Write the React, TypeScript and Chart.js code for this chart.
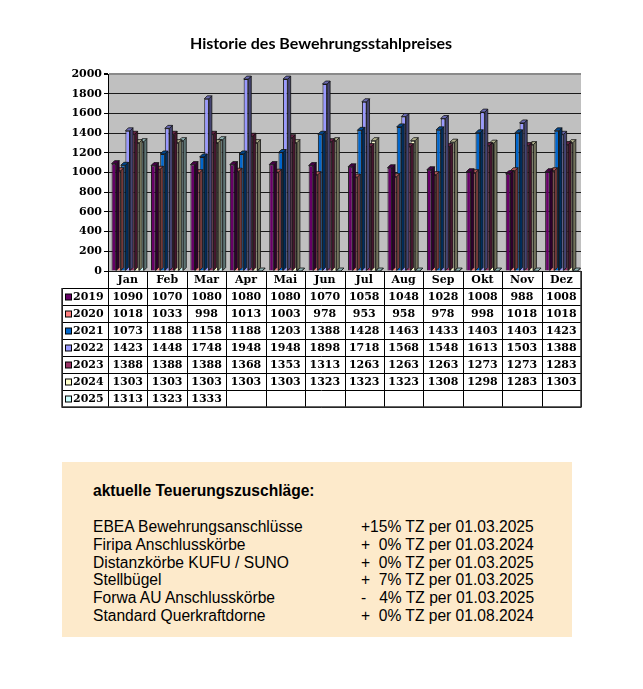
import React, { useEffect, useRef } from 'react';
import { Chart, registerables } from 'chart.js';

Chart.register(...registerables);

const chartTitle = 'Historie des Bewehrungsstahlpreises';
const months = ['Jan', 'Feb', 'Mar', 'Apr', 'Mai', 'Jun', 'Jul', 'Aug', 'Sep', 'Okt', 'Nov', 'Dez'];
const years = ['2019', '2020', '2021', '2022', '2023', '2024', '2025'];

const v2019 = [1090, 1070, 1080, 1080, 1080, 1070, 1058, 1048, 1028, 1008, 988, 1008];
const v2020 = [1018, 1033, 998, 1013, 1003, 978, 953, 958, 978, 998, 1018, 1018];
const v2021 = [1073, 1188, 1158, 1188, 1203, 1388, 1428, 1463, 1433, 1403, 1403, 1423];
const v2022 = [1423, 1448, 1748, 1948, 1948, 1898, 1718, 1568, 1548, 1613, 1503, 1388];
const v2023 = [1388, 1388, 1388, 1368, 1353, 1313, 1263, 1263, 1263, 1273, 1273, 1283];
const v2024 = [1303, 1303, 1303, 1303, 1303, 1323, 1323, 1323, 1308, 1298, 1283, 1303];
const v2025 = [1313, 1323, 1333, null, null, null, null, null, null, null, null, null];

const series = [v2019, v2020, v2021, v2022, v2023, v2024, v2025];
const colors = ['#660066', '#FF8080', '#0066CC', '#9999FF', '#993366', '#FFFFCC', '#CCFFFF'];

const yMin = 0;
const yMax = 2000;
const yStep = 200;

const boxHeading = 'aktuelle Teuerungszuschläge:';
const surchargeNames = [
  'EBEA Bewehrungsanschlüsse',
  'Firipa Anschlusskörbe',
  'Distanzkörbe KUFU / SUNO',
  'Stellbügel',
  'Forwa AU Anschlusskörbe',
  'Standard Querkraftdorne',
];
const surchargeRates = [
  '+15% TZ per 01.03.2025',
  '+  0% TZ per 01.03.2024',
  '+  0% TZ per 01.03.2025',
  '+  7% TZ per 01.03.2025',
  '-   4% TZ per 01.03.2025',
  '+  0% TZ per 01.08.2024',
];

const SERIF = '"DejaVu Serif", serif';

function shade(hex: string, f: number) {
  const n = parseInt(hex.slice(1), 16);
  const r = Math.round(((n >> 16) & 255) * f);
  const g = Math.round(((n >> 8) & 255) * f);
  const b = Math.round((n & 255) * f);
  return `rgb(${r},${g},${b})`;
}

const bgPlugin = {
  id: 'bgPlugin',
  beforeDraw(chart: any) {
    const { ctx, chartArea } = chart;
    ctx.save();
    ctx.fillStyle = '#C0C0C0';
    ctx.fillRect(chartArea.left, chartArea.top, chartArea.right - chartArea.left, chartArea.bottom - chartArea.top);
    ctx.restore();
  },
};

const DX = 3;
const DY = 3;

const depthPlugin = {
  id: 'depthPlugin',
  beforeDatasetDraw(chart: any, args: any) {
    const { ctx } = chart;
    const color = colors[args.index];
    const meta = args.meta;
    ctx.save();
    ctx.lineWidth = 0.8;
    ctx.strokeStyle = '#111';
    for (const el of meta.data) {
      const p = el.getProps(['x', 'y', 'base', 'width'], true);
      if (p.y == null || isNaN(p.y)) continue;
      const l = p.x - p.width / 2;
      const r = p.x + p.width / 2;
      const t = p.y;
      const b = p.base;
      ctx.beginPath();
      ctx.moveTo(r, t);
      ctx.lineTo(r + DX, t - DY);
      ctx.lineTo(r + DX, b - DY);
      ctx.lineTo(r, b);
      ctx.closePath();
      ctx.fillStyle = shade(color, 0.45);
      ctx.fill();
      ctx.stroke();
      ctx.beginPath();
      ctx.moveTo(l, t);
      ctx.lineTo(l + DX, t - DY);
      ctx.lineTo(r + DX, t - DY);
      ctx.lineTo(r, t);
      ctx.closePath();
      ctx.fillStyle = shade(color, 0.7);
      ctx.fill();
      ctx.stroke();
    }
    ctx.restore();
  },
};

const titlePlugin = {
  id: 'titlePlugin',
  afterDraw(chart: any) {
    const { ctx } = chart;
    ctx.save();
    ctx.font = 'bold 16px Lato, "Liberation Sans", sans-serif';
    ctx.fillStyle = '#000';
    ctx.textAlign = 'center';
    ctx.textBaseline = 'alphabetic';
    ctx.fillText(chartTitle, 313, 41);
    ctx.restore();
  },
};

const ROW_H = 17;
const LABEL_LEFT = 54;

const tablePlugin = {
  id: 'tablePlugin',
  afterDraw(chart: any) {
    const { ctx, chartArea } = chart;
    const xs = chart.scales.x;
    const n = months.length;
    const colW = (chartArea.right - chartArea.left) / n;
    const top = chartArea.bottom;
    const rows = years.length;
    const bottom = top + (rows + 1) * ROW_H;
    const snap = (v: number) => Math.round(v) + 0.5;
    ctx.save();
    ctx.strokeStyle = '#000';
    ctx.lineWidth = 1;
    for (let r = 1; r <= rows + 1; r++) {
      const y = snap(top + r * ROW_H);
      ctx.beginPath();
      ctx.moveTo(LABEL_LEFT, y);
      ctx.lineTo(chartArea.right, y);
      ctx.stroke();
    }
    for (let i = 0; i <= n; i++) {
      const x = snap(chartArea.left + i * colW);
      ctx.beginPath();
      ctx.moveTo(x, top);
      ctx.lineTo(x, bottom);
      ctx.stroke();
    }
    ctx.beginPath();
    ctx.moveTo(snap(LABEL_LEFT), top + ROW_H);
    ctx.lineTo(snap(LABEL_LEFT), bottom);
    ctx.stroke();
    ctx.lineWidth = 1.5;
    ctx.strokeStyle = '#333';
    ctx.beginPath();
    ctx.moveTo(LABEL_LEFT, top + ROW_H);
    ctx.lineTo(LABEL_LEFT, bottom);
    ctx.lineTo(chartArea.right, bottom);
    ctx.lineTo(chartArea.right, top);
    ctx.stroke();

    ctx.fillStyle = '#000';
    ctx.font = `bold 11px ${SERIF}`;
    ctx.textBaseline = 'middle';
    ctx.textAlign = 'center';
    months.forEach((m, i) => {
      ctx.fillText(m, xs.getPixelForValue(i), top + ROW_H / 2 + 1);
    });
    series.forEach((vals, r) => {
      const cy = top + (r + 1) * ROW_H + ROW_H / 2 + 1;
      ctx.fillStyle = colors[r];
      ctx.fillRect(57.5, cy - 3.5, 6, 6);
      ctx.lineWidth = 1;
      ctx.strokeStyle = '#000';
      ctx.strokeRect(57.5, cy - 3.5, 6, 6);
      ctx.fillStyle = '#000';
      ctx.textAlign = 'left';
      ctx.fillText(years[r], 65, cy);
      ctx.textAlign = 'center';
      vals.forEach((v, i) => {
        if (v == null) return;
        ctx.fillText(String(v), xs.getPixelForValue(i), cy);
      });
    });
    ctx.restore();
  },
};

export default function App() {
  const ref = useRef<HTMLCanvasElement>(null);
  useEffect(() => {
    const canvas = ref.current!;
    const chart = new Chart(canvas, {
      type: 'bar',
      data: {
        labels: months,
        datasets: series.map((d, i) => ({
          label: years[i],
          data: d,
          backgroundColor: colors[i],
          borderColor: '#1a1a1a',
          borderWidth: 1,
          categoryPercentage: 0.82,
          barPercentage: 1,
        })),
      },
      options: {
        responsive: false,
        animation: false,
        events: [],
        layout: { padding: { top: 66, left: 0, right: 54, bottom: 147 } },
        plugins: {
          legend: { display: false },
          title: { display: false },
          tooltip: { enabled: false },
        },
        scales: {
          x: { display: false, offset: true },
          y: {
            min: yMin,
            max: yMax,
            afterFit: (s: any) => {
              s.width = 100;
            },
            ticks: {
              stepSize: yStep,
              color: '#000',
              padding: 2,
              font: { family: SERIF, size: 11, weight: 'bold' },
              callback: (v: any) => String(v),
            },
            grid: {
              color: (c: any) => (c.tick && c.tick.value === yMax ? '#8a8a8a' : '#1a1a1a'),
              lineWidth: (c: any) => (c.tick && c.tick.value === yMax ? 2 : 1),
              tickLength: 4,
              tickColor: '#000',
            },
            border: { color: '#000', width: 1 },
          },
        },
      },
      plugins: [bgPlugin, depthPlugin, titlePlugin, tablePlugin],
    } as any);
    return () => chart.destroy();
  }, []);

  return (
    <div style={{ position: 'relative', width: 627, height: 640 }}>
      <canvas ref={ref} width={627} height={410} style={{ display: 'block', width: 627, height: 410 }} />
      <div
        style={{
          position: 'absolute',
          left: 54,
          top: 454,
          width: 510,
          height: 175,
          background: '#FDEACB',
          fontFamily: '"Liberation Sans", Arial, sans-serif',
          fontSize: '15.6px',
          color: '#000',
          lineHeight: '17.8px',
        }}
      >
        <div style={{ position: 'absolute', left: 31, top: 20, fontWeight: 'bold' }}>{boxHeading}</div>
        <div style={{ position: 'absolute', left: 31, top: 56 }}>
          {surchargeNames.map((name, i) => (
            <div key={name} style={{ display: 'flex', whiteSpace: 'pre' }}>
              <span style={{ width: 268, flex: 'none' }}>{name}</span>
              <span>{surchargeRates[i]}</span>
            </div>
          ))}
        </div>
      </div>
    </div>
  );
}
